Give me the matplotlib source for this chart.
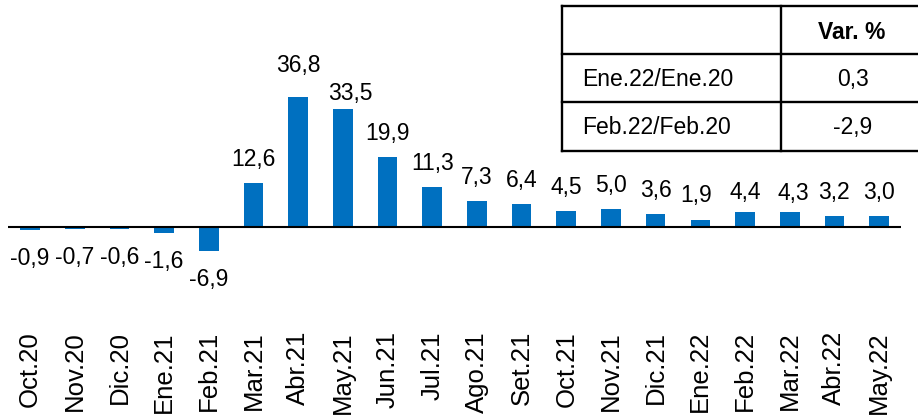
import matplotlib
matplotlib.use("Agg")
import matplotlib.pyplot as plt
from matplotlib.lines import Line2D

# ---- data ----
categories = ["Oct.20", "Nov.20", "Dic.20", "Ene.21", "Feb.21", "Mar.21", "Abr.21",
              "May.21", "Jun.21", "Jul.21", "Ago.21", "Set.21", "Oct.21", "Nov.21",
              "Dic.21", "Ene.22", "Feb.22", "Mar.22", "Abr.22", "May.22"]
values = [-0.9, -0.7, -0.6, -1.6, -6.9, 12.6, 36.8, 33.5, 19.9, 11.3, 7.3, 6.4,
          4.5, 5.0, 3.6, 1.9, 4.4, 4.3, 3.2, 3.0]

table_header = ["", "Var. %"]
table_rows = ["Ene.22/Ene.20", "Feb.22/Feb.20"]
table_values = [0.3, -2.9]

# ---- style ----
W, H = 918, 419
DPI = 100
BAR_COLOR = "#0070C0"
FONT = "Liberation Sans"
plt.rcParams["font.family"] = [FONT, "DejaVu Sans"]

def fx(px):
    return px / W

def fy(py):
    return 1 - py / H

def fmt(v):
    return f"{v:.1f}".replace(".", ",")

fig = plt.figure(figsize=(W / DPI, H / DPI), dpi=DPI)
ax_left, ax_right, ax_top, ax_bottom = 7.8, 901.4, 0, 329
ax = fig.add_axes([fx(ax_left), fy(ax_bottom), fx(ax_right - ax_left), (ax_bottom - ax_top) / H])

px_per_unit = 3.52
zero_px = 227
ax.set_xlim(-0.5, len(categories) - 0.5)
ax.set_ylim(-(ax_bottom - zero_px) / px_per_unit, (zero_px - ax_top) / px_per_unit)

x = list(range(len(categories)))
ax.bar(x, values, width=0.44, color=BAR_COLOR, zorder=2)
ax.axhline(0, color="black", lw=1.5, zorder=3)

for s in ax.spines.values():
    s.set_visible(False)
ax.set_yticks([])
ax.set_xticks(x)
ax.set_xticklabels(categories, rotation=90, fontsize=18.5)
ax.tick_params(axis="x", length=0, pad=1.5)

# value labels (nudges in pixels: dx, extra dy)
nudge = {6: (0, 8), 7: (7, -8), 15: (-4, 1), 16: (0, -4), 17: (4, -5)}
PT = 72 / DPI
for i, v in enumerate(values):
    dx, ddy = nudge.get(i, (0, 0))
    if v >= 0:
        dy = 17 + ddy
    else:
        dy = -35
    ax.annotate(fmt(v), xy=(i, v), xytext=(dx * PT, dy * PT), textcoords="offset points",
                ha="center", va="baseline", fontsize=16.5, color="black", zorder=4)

# ---- table (drawn in figure pixels) ----
tl, tdiv, tr = 562, 781, 940
trow = [6, 54, 102, 151]
lw_t = 1.7
for yy in trow:
    fig.add_artist(Line2D([fx(tl), fx(tr)], [fy(yy), fy(yy)], color="black", lw=lw_t))
for xx in (tl, tdiv):
    fig.add_artist(Line2D([fx(xx), fx(xx)], [fy(trow[0]), fy(trow[-1])], color="black", lw=lw_t))

fig.text(fx(852), fy(39), table_header[1], ha="center", va="baseline",
         fontsize=16.5, fontweight="bold")
for r, (lab, val) in enumerate(zip(table_rows, table_values)):
    base = [86, 134][r]
    fig.text(fx(582), fy(base), lab, ha="left", va="baseline", fontsize=16.5)
    fig.text(fx(853), fy(base), fmt(val), ha="center", va="baseline", fontsize=16.5)

fig.savefig("out.png", dpi=DPI)
